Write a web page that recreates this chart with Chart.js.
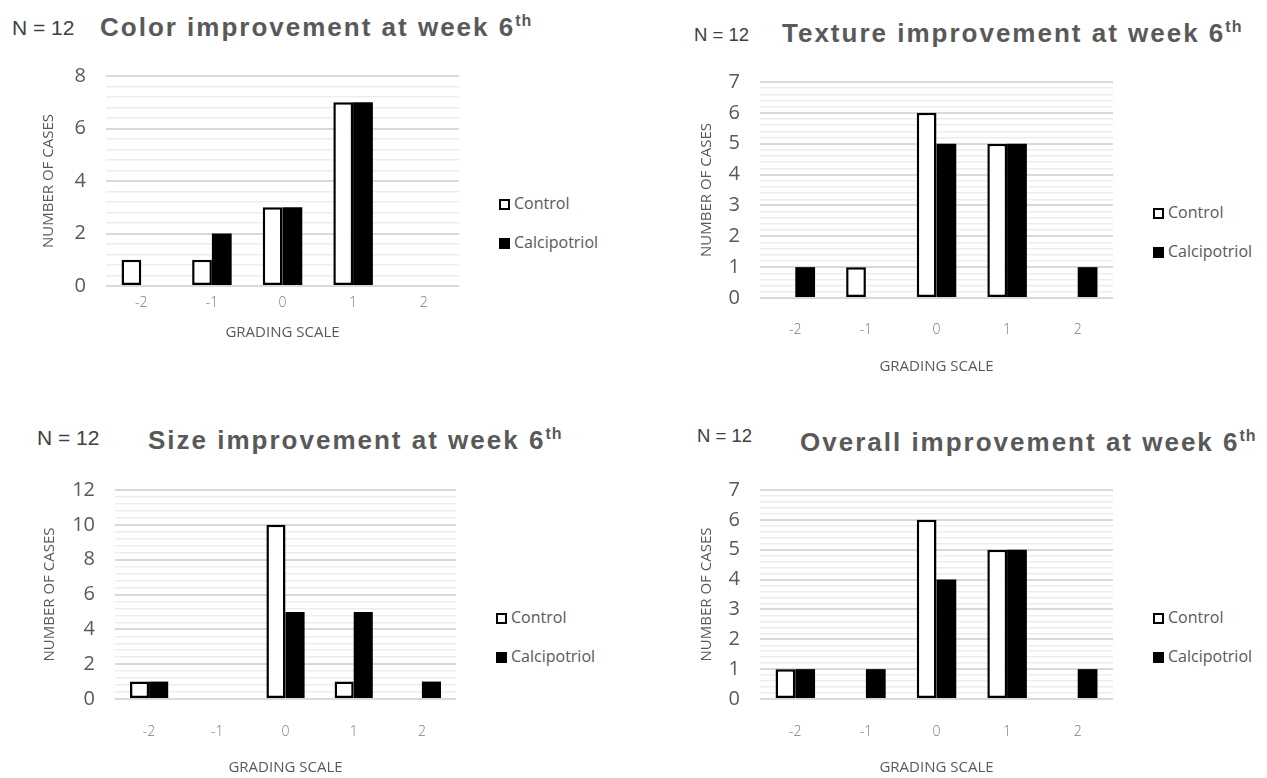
<!DOCTYPE html>
<html>
<head>
<meta charset="utf-8">
<script src="https://cdn.jsdelivr.net/npm/chart.js@4.4.0/dist/chart.umd.min.js"></script>
<style>
  body { margin: 0; background: #fff; width: 1267px; height: 778px; position: relative; overflow: hidden; }
  canvas { position: absolute; }
  .n { position: absolute; font-family: "Liberation Sans", Arial, sans-serif; color: #404040; line-height: 1; white-space: nowrap; }
  .ttl { position: absolute; font-family: "Liberation Sans", Arial, sans-serif; font-weight: bold; font-size: 26px;
         letter-spacing: 2px; color: #595959; line-height: 1; white-space: nowrap; }
  .ttl sup { font-size: 16px; vertical-align: 10px; line-height: 0; letter-spacing: 1px; }
  .leg { position: absolute; font-family: "Open Sans", sans-serif; font-size: 16px; color: #595959; }
  .leg div { position: absolute; white-space: nowrap; line-height: 1; }
  .leg span { display: inline-block; box-sizing: border-box; width: 11px; height: 11px; margin-right: 4px; vertical-align: -1px; }
</style>
</head>
<body>

<div class="n" style="left:12px; top:17px; font-size:21px;">N = 12</div>
<div class="ttl" style="left:100px; top:14px;">Color improvement at week 6<sup>th</sup></div>

<div class="n" style="left:694px; top:26px; font-size:18.5px;">N = 12</div>
<div class="ttl" style="left:782px; top:20px;">Texture improvement at week 6<sup>th</sup></div>

<div class="n" style="left:37px; top:427px; font-size:21px;">N = 12</div>
<div class="ttl" style="left:148px; top:427px;">Size improvement at week 6<sup>th</sup></div>

<div class="n" style="left:697px; top:427px; font-size:18.5px;">N = 12</div>
<div class="ttl" style="left:800px; top:429px;">Overall improvement at week 6<sup>th</sup></div>

<script>
// Daten //
const grades = ["-2", "-1", "0", "1", "2"]
const seriesNames = ["Control", "Calcipotriol"]

const colorControl = [1, 1, 3, 7, 0]
const colorCalci = [0, 2, 3, 7, 0]

const textureControl = [0, 1, 6, 5, 0]
const textureCalci = [1, 0, 5, 5, 1]

const sizeControl = [1, 0, 10, 1, 0]
const sizeCalci = [1, 0, 5, 5, 1]

const overallControl = [1, 0, 6, 5, 0]
const overallCalci = [1, 1, 4, 5, 1]

// y-Achsen: Maximum und Hauptschritt
const yMax = [8, 7, 12, 7]
const yMajor = [2, 1, 2, 1]

const yTitle = "NUMBER OF CASES"
const xTitle = "GRADING SCALE"

Chart.defaults.font.family = "'Open Sans', sans-serif"
Chart.defaults.color = '#595959'

// Lage der Diagramme auf der Seite
const boxes = [
    { control: colorControl, calci: colorCalci, plot: { l: 106, t: 74, r: 459, b: 286 }, tickGap: 17, titleGap: 47, yTitleGap: 57 },
    { control: textureControl, calci: textureCalci, plot: { l: 760, t: 80, r: 1113, b: 298 }, tickGap: 32, titleGap: 69, yTitleGap: 53 },
    { control: sizeControl, calci: sizeCalci, plot: { l: 115, t: 488, r: 456, b: 699 }, tickGap: 33, titleGap: 69, yTitleGap: 65 },
    { control: overallControl, calci: overallCalci, plot: { l: 760, t: 488, r: 1113, b: 699 }, tickGap: 33, titleGap: 69, yTitleGap: 53 }
]

const Y_W = 85

function isMajor(v, major) {
    let r = Math.round(v)
    return Math.abs(v - r) < 1e-6 && r % major === 0
}

function makeChart(box, i) {
    const p = box.plot
    const xH = box.titleGap + 9
    const cx = p.l - 100, cy = p.t - 30
    const cw = p.r - cx + 4
    const ch = p.b + xH + 4 - cy

    const canvas = document.createElement('canvas')
    canvas.width = cw
    canvas.height = ch
    canvas.style.left = cx + 'px'
    canvas.style.top = cy + 'px'
    document.body.appendChild(canvas)

    const major = yMajor[i]

    const chart = new Chart(canvas, {
        type: 'bar',
        data: {
            labels: grades,
            datasets: [{
                label: seriesNames[0],
                data: box.control,
                backgroundColor: '#ffffff',
                borderColor: '#000000',
                borderWidth: 2.5,
                borderSkipped: false
            }, {
                label: seriesNames[1],
                data: box.calci,
                backgroundColor: '#000000',
                borderColor: '#000000',
                borderWidth: 0
            }]
        },
        options: {
            responsive: false,
            animation: false,
            devicePixelRatio: 1,
            layout: { padding: { left: 100 - Y_W, top: 30, right: 4, bottom: 4 } },
            datasets: { bar: { categoryPercentage: 0.56, barPercentage: 1.0 } },
            plugins: { legend: { display: false }, tooltip: { enabled: false } },
            scales: {
                x: {
                    grid: { display: false, drawTicks: false },
                    border: { display: false },
                    ticks: { padding: box.tickGap - 8.4, color: '#7a7a7a', font: { size: 14, weight: 300 } },
                    title: { display: true, text: xTitle, color: '#595959', font: { size: 15 }, padding: { top: 0, bottom: 0 } },
                    afterFit: (s) => { s.height = xH }
                },
                y: {
                    min: 0,
                    max: yMax[i],
                    border: { display: false },
                    grid: {
                        drawTicks: false,
                        color: (ctx) => isMajor(ctx.tick.value, major) ? '#d9d9d9' : '#ededed',
                        lineWidth: (ctx) => isMajor(ctx.tick.value, major) ? 2 : 1.5
                    },
                    ticks: {
                        stepSize: major / 5,
                        maxTicksLimit: 200,
                        autoSkip: false,
                        padding: 20,
                        color: '#595959',
                        font: { size: 20 },
                        callback: (v) => isMajor(v, major) ? String(Math.round(v)) : ''
                    },
                    title: { display: true, text: yTitle, color: '#595959', font: { size: 15 }, padding: { top: Y_W - box.yTitleGap - 9, bottom: 0 } },
                    afterFit: (s) => { s.width = Y_W }
                }
            }
        }
    })

    // Legende aus den Datensätzen bauen
    const leg = document.createElement('div')
    leg.className = 'leg'
    const mid = (p.t + p.b) / 2
    chart.data.datasets.forEach((ds, k) => {
        const item = document.createElement('div')
        item.style.left = (p.r + 40) + 'px'
        item.style.top = (mid + 23 + k * 39 - 8) + 'px'
        const sw = document.createElement('span')
        sw.style.background = ds.backgroundColor
        sw.style.border = k === 0 ? '2.5px solid #000' : '0'
        item.appendChild(sw)
        item.appendChild(document.createTextNode(ds.label))
        leg.appendChild(item)
    })
    document.body.appendChild(leg)
}

boxes.forEach(makeChart)
</script>
</body>
</html>
